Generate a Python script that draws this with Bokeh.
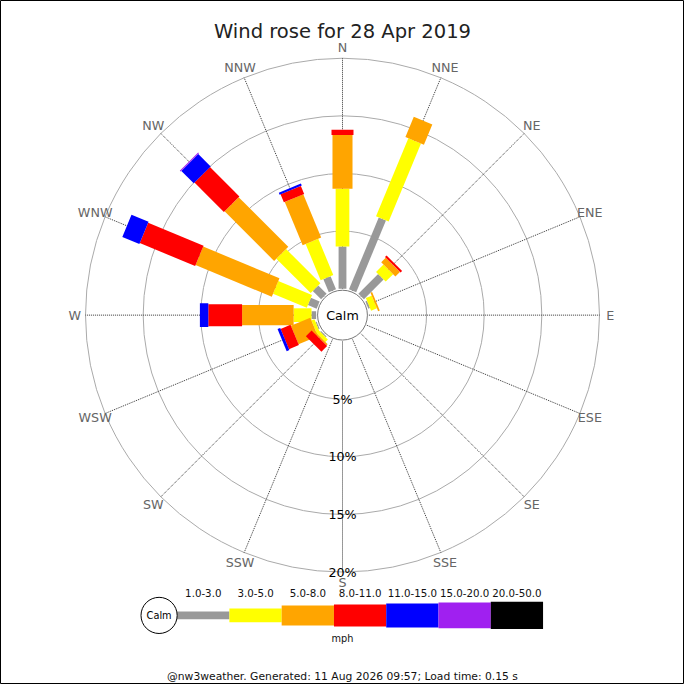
import numpy as np
from bokeh.plotting import figure
from bokeh.models import Range1d
from bokeh.core.properties import value
from bokeh.embed import file_html
from bokeh.resources import INLINE

# wind rose data: % of the day per direction, one list per speed bin (mph)
directions = ["N", "NNE", "NE", "ENE", "E", "ESE", "SE", "SSE",
              "S", "SSW", "SW", "WSW", "W", "WNW", "NW", "NNW"]
speed_bins = ["1.0-3.0", "3.0-5.0", "5.0-8.0", "8.0-11.0",
              "11.0-15.0", "15.0-20.0", "20.0-50.0"]
bin_colours = ["#999999", "#ffff00", "#ffa500", "#ff0000",
               "#0000ff", "#a020f0", "#000000"]

spd_1_3 = [3.67, 6.74, 2.42, 0.15, 0, 0, 0, 0, 0, 0, 0.10, 0.10, 0.40, 0.82, 1.02, 1.23]
spd_3_5 = [5.00, 7.33, 0.91, 0.55, 0, 0, 0, 0, 0, 0, 0.30, 0.28, 1.55, 3.17, 4.21, 3.41]
spd_5_8 = [4.66, 1.90, 0.55, 0.15, 0, 0, 0, 0, 0, 0, 0.15, 1.82, 4.47, 7.16, 6.08, 4.06]
spd_8_11 = [0.46, 0, 0.19, 0, 0, 0, 0, 0, 0, 0, 0.70, 0.93, 2.93, 5.20, 3.61, 0.75]
spd_11_15 = [0, 0, 0, 0, 0, 0, 0, 0, 0, 0, 0, 0.25, 0.73, 1.60, 1.52, 0.19]
spd_15_20 = [0, 0, 0, 0, 0, 0, 0, 0, 0, 0, 0, 0, 0, 0, 0.10, 0]
spd_20_50 = [0, 0, 0, 0, 0, 0, 0, 0, 0, 0, 0, 0, 0, 0, 0, 0]
rings = [5, 10, 15, 20]

title = "Wind rose for 28 Apr 2019"
footer = "@nw3weather. Generated: 11 Aug 2026 09:57; Load time: 0.15 s"

series = [spd_1_3, spd_3_5, spd_5_8, spd_8_11, spd_11_15, spd_15_20, spd_20_50]

W = H = 684
s = W / 700.0            # layout was measured on a 700px canvas
FONT = value("DejaVu Sans")


def fs(px):
    return f"{px * s:.2f}px"


bar_px = [w * s for w in (8, 14, 20.5, 22.5, 24.5, 26.5, 28)]  # bar thickness per bin
k = 11.8 * s             # pixels per percent
cx, cy = 350 * s, 322 * s  # centre of the rose in figure pixels
hole = 27 / 11.8         # bars start at the edge of the calm circle (in %)
calm_r = 25.5 / 11.8


def ypos(y_ref):
    # vertical position (measured in 700px canvas pixels) to data units
    return (cy - y_ref * s) / k


p = figure(width=W, height=H, output_backend="svg", toolbar_location=None,
           x_range=Range1d(-cx / k, (W - cx) / k),
           y_range=Range1d(-(H - cy) / k, cy / k),
           x_axis_location=None, y_axis_location=None, min_border=0)
p.grid.visible = False
p.outline_line_color = "black"
p.background_fill_color = "white"
p.border_fill_color = "white"

ang = np.radians(90 - 22.5 * np.arange(16))
ca, sa = np.cos(ang), np.sin(ang)
outer = hole + rings[-1]

# rings and spokes
p.circle(x=[0] * len(rings), y=[0] * len(rings), radius=[hole + r for r in rings],
         fill_color=None, line_color="#aaaaaa", line_width=1)
p.segment(x0=hole * ca, y0=hole * sa, x1=outer * ca, y1=outer * sa,
          line_color="#333333", line_dash="1 1", line_width=1)

# stacked bars
cum = np.zeros(16)
for vals, col, th in zip(series, bin_colours, bar_px):
    v = np.array(vals, dtype=float)
    start = hole + cum
    end = start + v
    cum = cum + v
    m = v > 0
    mid = (start + end) / 2
    p.rect(x=(mid * ca)[m], y=(mid * sa)[m], width=v[m], height=th,
           height_units="screen", angle=ang[m], fill_color=col, line_color=None)

# calm circle
p.circle(x=[0], y=[0], radius=calm_r, fill_color="white", line_color="#777777")
p.text(x=[0], y=[0], text=["Calm"], text_font=FONT, text_font_size=fs(13),
       text_align="center", text_baseline="middle", text_color="black")

# ring labels
p.text(x=[0] * len(rings), y=[-(hole + r) for r in rings], text=[f"{r}%" for r in rings],
       text_font=FONT, text_font_size=fs(13), text_align="center",
       text_baseline="middle", text_color="black")

# direction labels
lab_r = 274 / 11.8
p.text(x=lab_r * ca, y=lab_r * sa, text=directions, text_font=FONT,
       text_font_size=fs(13), text_align="center", text_baseline="middle",
       text_color="#666666")

# title
p.text(x=[0], y=[ypos(31.5)], text=[title], text_font=FONT, text_font_size=fs(20),
       text_align="center", text_baseline="alphabetic", text_color="#222222")

# legend
step = 53.5 / 11.8
lx = -142.5 / 11.8 + step * np.arange(len(speed_bins))
ly = ypos(629.3)
for x, col, th in zip(lx, bin_colours, bar_px):
    p.rect(x=[x], y=[ly], width=53.5 * s, height=th, width_units="screen",
           height_units="screen", fill_color=col, line_color=None)
p.text(x=lx, y=[ypos(606.7)] * len(lx), text=speed_bins, text_font=FONT,
       text_font_size=fs(10.5), text_align="center", text_baseline="middle",
       text_color="#111111")
calm_x = lx[0] - 45.2 / 11.8
p.scatter(x=[calm_x], y=[ly], size=37 * s, marker="circle",
          fill_color="white", line_color="black")
p.text(x=[calm_x], y=[ly], text=["Calm"], text_font=FONT,
       text_font_size=fs(10), text_align="center", text_baseline="middle",
       text_color="black")
p.text(x=[0], y=[ypos(653.3)], text=["mph"], text_font=FONT,
       text_font_size=fs(10), text_align="center", text_baseline="middle",
       text_color="#111111")

# footer
p.text(x=[0], y=[ypos(692)], text=[footer], text_font=FONT,
       text_font_size=fs(11), text_align="center", text_baseline="middle",
       text_color="#111111")

open("out.html", "w").write(file_html(p, INLINE))
